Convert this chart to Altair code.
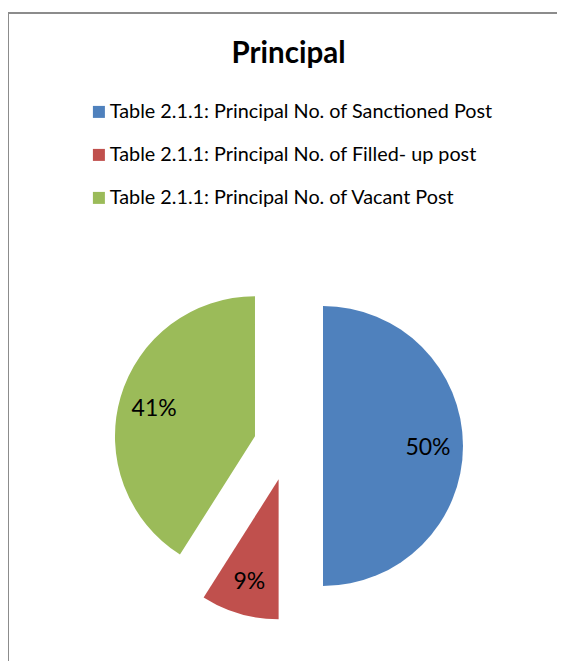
import altair as alt
import pandas as pd

categories = [
    "Table 2.1.1: Principal No. of Sanctioned Post",
    "Table 2.1.1: Principal No. of Filled- up post",
    "Table 2.1.1: Principal No. of Vacant Post",
]
values = [50, 9, 41]
colors = ["#4F81BD", "#C0504D", "#9BBB59"]

df = pd.DataFrame({"category": categories, "value": values, "order": list(range(len(values)))})

FONT = "Lato"
CX, CY = 280.3, 373.0   # pie centre in view pixels
EXPLODE = 34.7
R = 140
LR = 105

base = alt.Chart(df).transform_joinaggregate(
    total="sum(value)"
).transform_window(
    cum="sum(value)", sort=[alt.SortField("order")]
).transform_calculate(
    t0="2*PI*(datum.cum - datum.value)/datum.total",
    t1="2*PI*datum.cum/datum.total",
).transform_calculate(
    mid="(datum.t0 + datum.t1)/2",
).transform_calculate(
    ex=f"{CX} + {EXPLODE}*sin(datum.mid)",
    ey=f"{CY} - {EXPLODE}*cos(datum.mid)",
).transform_calculate(
    lx=f"datum.ex + {LR}*sin(datum.mid)",
    ly=f"datum.ey - {LR}*cos(datum.mid)",
    pct="format(datum.value/datum.total, '.0%')",
)

color = alt.Color(
    "category:N",
    scale=alt.Scale(domain=categories, range=colors),
    sort=categories,
    legend=alt.Legend(
        title=None,
        orient="none",
        legendX=81,
        legendY=29,
        symbolType="square",
        symbolSize=144,
        symbolStrokeWidth=0,
        labelFont=FONT,
        labelFontSize=19.8,
        labelColor="#000000",
        labelOffset=1,
        labelLimit=600,
        rowPadding=22,
        padding=0,
    ),
)

arcs = base.mark_arc(radius=R).encode(
    x=alt.X("ex:Q", scale=None, axis=None),
    y=alt.Y("ey:Q", scale=None, axis=None),
    theta=alt.Theta("t0:Q", scale=None, stack=None),
    theta2="t1:Q",
    color=color,
)

labels = base.mark_text(font=FONT, fontSize=23, color="#000000", dy=2).encode(
    x=alt.X("lx:Q", scale=None, axis=None),
    y=alt.Y("ly:Q", scale=None, axis=None),
    text="pct:N",
)

border_top = alt.Chart(df).mark_rule(color="#8c8c8c", strokeWidth=2).encode(
    x=alt.value(0), x2=alt.value(560), y=alt.value(-60)
)
border_left = alt.Chart(df).mark_rule(color="#8c8c8c", strokeWidth=2).encode(
    x=alt.value(0), y=alt.value(-60), y2=alt.value(600)
)

chart = alt.layer(border_top, border_left, arcs, labels).properties(
    width=549,
    height=588,
    padding={"top": 65, "left": 0, "right": 0, "bottom": 0},
    autosize=alt.AutoSizeParams(type="none"),
    title=alt.TitleParams(
        "Principal", font=FONT, fontSize=29.5, fontWeight="bold", color="#000000",
        anchor="middle", offset=0, baseline="bottom", dy=86, dx=6,
    ),
).configure(background="white").configure_view(stroke=None)

chart.save("out.html", embed_options={"renderer": "svg", "actions": False})
